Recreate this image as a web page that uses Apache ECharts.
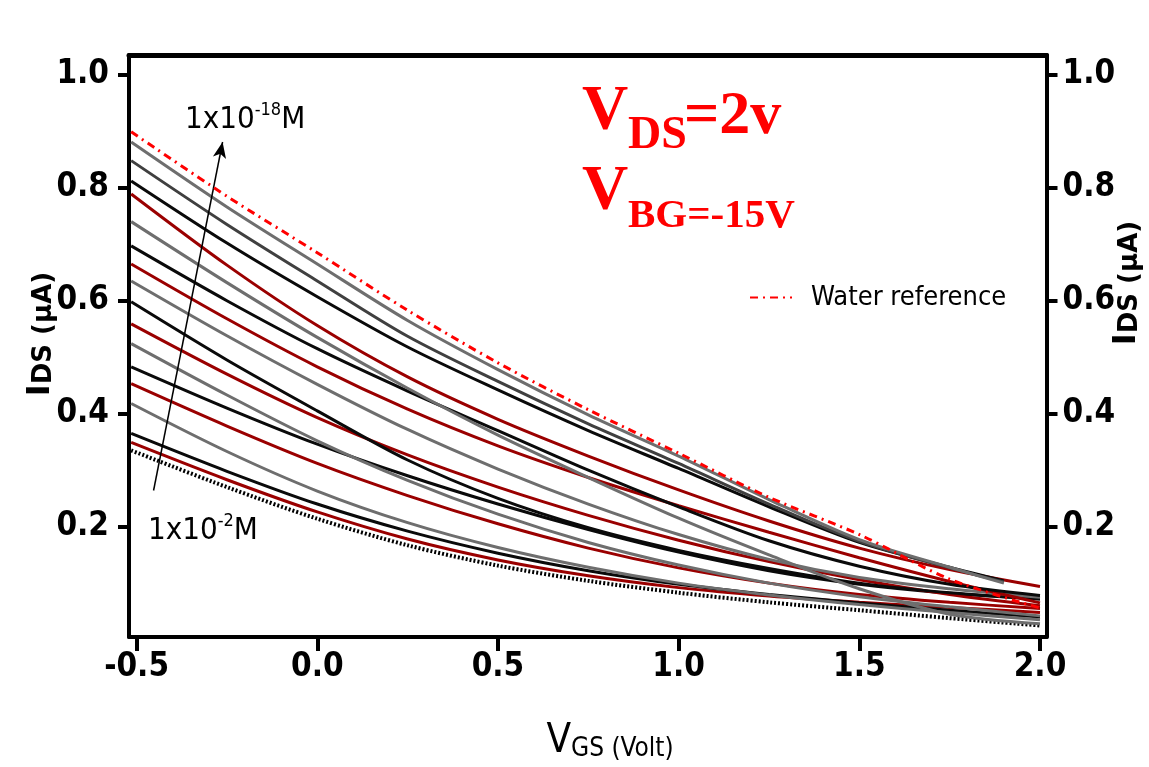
<!DOCTYPE html>
<html>
<head>
<meta charset="utf-8">
<title>IDS vs VGS</title>
<script src="https://cdn.jsdelivr.net/npm/echarts@6/dist/echarts.min.js"></script>
<style>
  html, body { margin: 0; padding: 0; background: #fff; }
  #chart { width: 1149px; height: 767px; }
</style>
</head>
<body>
<div id="chart"></div>
<script>
const vgsFull = [-0.515, -0.25, 0, 0.25, 0.5, 0.75, 1.0, 1.25, 1.5, 1.75, 2.0];
const vgsShort = [-0.515, -0.25, 0, 0.25, 0.5, 0.75, 1.0, 1.25, 1.5, 1.75, 1.9];

const xTicks = [-0.5, 0, 0.5, 1.0, 1.5, 2.0];
const yTicks = [0.2, 0.4, 0.6, 0.8, 1.0];

// I_DS (uA)
const waterRef = [0.899, 0.785, 0.685, 0.583, 0.490, 0.407, 0.330, 0.252, 0.186, 0.107, 0.056];
const curve01 = [0.881, 0.766, 0.665, 0.565, 0.478, 0.398, 0.325, 0.248, 0.177, 0.128, 0.100];
const curve02 = [0.848, 0.735, 0.635, 0.537, 0.457, 0.382, 0.312, 0.240, 0.174, 0.127, 0.102];
const curve03 = [0.812, 0.702, 0.607, 0.518, 0.442, 0.370, 0.303, 0.235, 0.172, 0.128, 0.104];
const curve04 = [0.789, 0.663, 0.556, 0.465, 0.390, 0.325, 0.265, 0.210, 0.162, 0.124, 0.094];
const curve05 = [0.740, 0.632, 0.535, 0.445, 0.362, 0.287, 0.215, 0.150, 0.090, 0.045, 0.028];
const curve06 = [0.697, 0.600, 0.515, 0.440, 0.370, 0.300, 0.235, 0.175, 0.130, 0.098, 0.078];
const curve07 = [0.665, 0.568, 0.483, 0.408, 0.343, 0.287, 0.237, 0.190, 0.145, 0.103, 0.065];
const curve08 = [0.635, 0.538, 0.452, 0.372, 0.302, 0.240, 0.186, 0.142, 0.110, 0.090, 0.075];
const curve09 = [0.598, 0.495, 0.405, 0.318, 0.250, 0.198, 0.158, 0.126, 0.100, 0.083, 0.072];
const curve10 = [0.559, 0.470, 0.393, 0.327, 0.270, 0.220, 0.176, 0.138, 0.106, 0.080, 0.060];
const curve11 = [0.524, 0.433, 0.352, 0.282, 0.222, 0.172, 0.132, 0.100, 0.076, 0.058, 0.042];
const curve12 = [0.483, 0.410, 0.346, 0.290, 0.240, 0.195, 0.155, 0.122, 0.098, 0.082, 0.072];
const curve13 = [0.453, 0.378, 0.312, 0.255, 0.205, 0.162, 0.127, 0.100, 0.080, 0.066, 0.055];
const curve14 = [0.418, 0.333, 0.263, 0.207, 0.163, 0.128, 0.100, 0.079, 0.062, 0.048, 0.035];
const curve15 = [0.365, 0.298, 0.240, 0.192, 0.153, 0.122, 0.098, 0.080, 0.065, 0.052, 0.040];
const curve16 = [0.349, 0.283, 0.226, 0.178, 0.141, 0.113, 0.092, 0.077, 0.066, 0.057, 0.048];
const curveLow = [0.335, 0.270, 0.214, 0.167, 0.131, 0.104, 0.083, 0.066, 0.052, 0.038, 0.025];

// arrow from 1x10^-2 M towards 1x10^-18 M, in data units
const arrowFrom = [-0.453, 0.264];
const arrowTo = [-0.262, 0.881];

const GRAY = '#6e6e6e', DGRAY = '#404040', BLACK = '#0a0a0a', RED = '#9a0000';
const narrow = '"Liberation Sans Narrow", "Arial Narrow", "DejaVu Sans Condensed", "Liberation Sans", sans-serif';

const pairs = (xs, ys) => ys.map((y, i) => [xs[i], y]);

const curveList = [
  { ys: curve16, xs: vgsFull, color: RED },
  { ys: curve15, xs: vgsFull, color: BLACK },
  { ys: curve14, xs: vgsFull, color: GRAY },
  { ys: curve13, xs: vgsFull, color: RED },
  { ys: curve12, xs: vgsFull, color: BLACK },
  { ys: curve11, xs: vgsFull, color: GRAY },
  { ys: curve10, xs: vgsFull, color: RED },
  { ys: curve09, xs: vgsFull, color: BLACK },
  { ys: curve08, xs: vgsFull, color: GRAY },
  { ys: curve07, xs: vgsFull, color: RED },
  { ys: curve06, xs: vgsFull, color: BLACK },
  { ys: curve05, xs: vgsFull, color: GRAY },
  { ys: curve04, xs: vgsFull, color: RED },
  { ys: curve03, xs: vgsShort, color: BLACK },
  { ys: curve02, xs: vgsShort, color: DGRAY },
  { ys: curve01, xs: vgsShort, color: GRAY }
];

const chart = echarts.init(document.getElementById('chart'));

let series = curveList.map(function (c, i) {
  return {
    name: 'c' + i,
    type: 'line',
    data: pairs(c.xs, c.ys),
    smooth: 0.3,
    symbol: 'none',
    lineStyle: { color: c.color, width: 3 },
    z: 3
  };
});

series.unshift({
  name: 'low',
  type: 'line',
  data: pairs(vgsFull, curveLow),
  smooth: 0.3,
  symbol: 'none',
  lineStyle: { color: '#000', width: 4, type: [2, 2] },
  z: 2,
  markLine: {
    silent: true,
    symbol: ['none', 'arrow'],
    symbolSize: [10, 16],
    label: { show: false },
    lineStyle: { color: '#000', width: 1.5, type: 'solid' },
    data: [[{ coord: arrowFrom }, { coord: arrowTo }]]
  }
});

series.push({
  name: 'Water reference',
  type: 'line',
  data: pairs(vgsFull, waterRef),
  smooth: 0.3,
  symbol: 'none',
  itemStyle: { color: '#ff0000' },
  lineStyle: { color: '#ff0000', width: 3, type: [8, 5, 2, 5] },
  z: 5
});

const xRange = { min: -0.521, max: 2.018 };
const yRange = { min: 0.0046, max: 1.035 };

const tickFont = { fontFamily: narrow, fontWeight: 'bold', fontSize: 33, color: '#000' };
const titleRich = {
  a: { fontFamily: '"DejaVu Sans", sans-serif', fontWeight: 'bold', fontSize: 32, lineHeight: 32, verticalAlign: 'bottom', fill: '#000' },
  b: { fontFamily: '"DejaVu Sans", sans-serif', fontWeight: 'bold', fontSize: 26, lineHeight: 28, verticalAlign: 'bottom', fill: '#000' }
};
const concRich = {
  n: { fontFamily: narrow, fontSize: 31, lineHeight: 34, verticalAlign: 'bottom', fill: '#000' },
  s: { fontFamily: narrow, fontSize: 18, lineHeight: 18, verticalAlign: 'top', fill: '#000' }
};

let option = {
  animation: false,
  backgroundColor: '#fff',
  grid: { left: 129, right: 102.5, top: 55, bottom: 130 },
  legend: {
    data: ['Water reference'],
    left: 744,
    top: 279,
    itemWidth: 42,
    itemHeight: 14,
    itemStyle: { opacity: 0 },
    textStyle: { fontFamily: narrow, fontSize: 27, color: '#000', padding: [0, 0, 0, 14] }
  },
  xAxis: [{
    type: 'value',
    min: xRange.min,
    max: xRange.max,
    position: 'bottom',
    axisLine: { show: true, onZero: false, lineStyle: { color: '#000', width: 4 } },
    axisTick: { show: true, customValues: xTicks, length: 14, lineStyle: { color: '#000', width: 4 } },
    axisLabel: Object.assign({
      customValues: xTicks,
      formatter: function (v) { return v.toFixed(1); },
      margin: 14
    }, tickFont),
    splitLine: { show: false }
  }, {
    type: 'value',
    min: xRange.min,
    max: xRange.max,
    position: 'top',
    axisLine: { show: true, onZero: false, lineStyle: { color: '#000', width: 5 } },
    axisTick: { show: false },
    axisLabel: { show: false },
    splitLine: { show: false }
  }],
  yAxis: [{
    type: 'value',
    min: yRange.min,
    max: yRange.max,
    position: 'left',
    axisLine: { show: true, onZero: false, lineStyle: { color: '#000', width: 4 } },
    axisTick: { show: true, customValues: yTicks, length: 11, lineStyle: { color: '#000', width: 4 } },
    axisLabel: Object.assign({
      customValues: yTicks,
      formatter: function (v) { return v.toFixed(1); },
      margin: 20
    }, tickFont),
    splitLine: { show: false }
  }, {
    type: 'value',
    min: yRange.min,
    max: yRange.max,
    position: 'right',
    axisLine: { show: true, onZero: false, lineStyle: { color: '#000', width: 4 } },
    axisTick: { show: true, customValues: yTicks, length: 11, lineStyle: { color: '#000', width: 4 } },
    axisLabel: Object.assign({
      customValues: yTicks,
      formatter: function (v) { return v.toFixed(1); },
      margin: 16
    }, tickFont),
    splitLine: { show: false }
  }],
  graphic: [
    // axis titles
    {
      type: 'text', x: 610, y: 742,
      style: {
        text: '{a|V}{b|GS (Volt)}', align: 'center', verticalAlign: 'middle',
        rich: {
          a: { fontFamily: narrow, fontSize: 40, lineHeight: 40, verticalAlign: 'bottom', fill: '#000' },
          b: { fontFamily: narrow, fontSize: 26, lineHeight: 28, verticalAlign: 'bottom', fill: '#000' }
        }
      }
    },
    {
      type: 'text', x: 41, y: 334, rotation: Math.PI / 2,
      style: { text: '{a|I}{b|DS (μA)}', align: 'center', verticalAlign: 'middle', rich: titleRich }
    },
    {
      type: 'text', x: 1127, y: 283, rotation: Math.PI / 2,
      style: { text: '{a|I}{b|DS (μA)}', align: 'center', verticalAlign: 'middle', rich: titleRich }
    },
    // concentration labels
    {
      type: 'text', x: 185, y: 118,
      style: { text: '{n|1x10}{s|-18}{n|M}', align: 'left', verticalAlign: 'middle', rich: concRich }
    },
    {
      type: 'text', x: 148, y: 529,
      style: { text: '{n|1x10}{s|-2}{n|M}', align: 'left', verticalAlign: 'middle', rich: concRich }
    },
    // bias conditions
    { type: 'text', x: 582, y: 112, style: { text: 'V', fontFamily: 'Liberation Serif, serif', fontWeight: 'bold', fontSize: 64, fill: '#ff0000', verticalAlign: 'middle' } },
    { type: 'text', x: 628, y: 136, style: { text: 'DS', fontFamily: 'Liberation Serif, serif', fontWeight: 'bold', fontSize: 46, fill: '#ff0000', verticalAlign: 'middle' } },
    { type: 'text', x: 684, y: 117, style: { text: '=2v', fontFamily: 'Liberation Serif, serif', fontWeight: 'bold', fontSize: 62, fill: '#ff0000', verticalAlign: 'middle' } },
    { type: 'text', x: 582, y: 192, style: { text: 'V', fontFamily: 'Liberation Serif, serif', fontWeight: 'bold', fontSize: 64, fill: '#ff0000', verticalAlign: 'middle' } },
    { type: 'text', x: 628, y: 216, style: { text: 'BG=-15V', fontFamily: 'Liberation Serif, serif', fontWeight: 'bold', fontSize: 41, fill: '#ff0000', verticalAlign: 'middle' } }
  ],
  series: series
};

chart.setOption(option);
window.addEventListener('resize', function () {
  chart.resize();
});
</script>
</body>
</html>
